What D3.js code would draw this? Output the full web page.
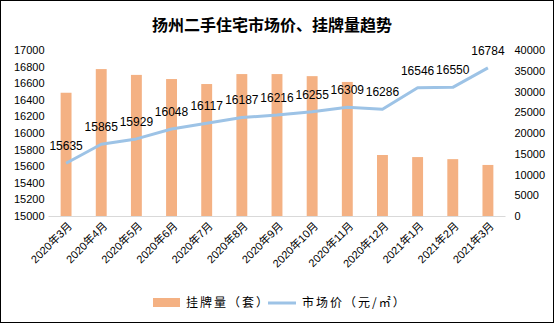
<!DOCTYPE html>
<html><head><meta charset="utf-8">
<script src="https://cdn.jsdelivr.net/npm/d3@7/dist/d3.min.js"></script>
<style>body{margin:0;background:#fff}svg{display:block}</style>
</head><body>
<script>
const categories = ["2020年3月","2020年4月","2020年5月","2020年6月","2020年7月","2020年8月","2020年9月","2020年10月","2020年11月","2020年12月","2021年1月","2021年2月","2021年3月"];
const listings = [29700,35400,34000,33000,31800,34200,34200,33700,32300,14700,14200,13700,12300];
const prices = [15635,15865,15929,16048,16117,16187,16216,16255,16309,16286,16546,16550,16784];
const leftTicks = [15000,15200,15400,15600,15800,16000,16200,16400,16600,16800,17000];
const rightTicks = [0,5000,10000,15000,20000,25000,30000,35000,40000];
const title = "扬州二手住宅市场价、挂牌量趋势";
const legendBar = "挂牌量（套）";
const legendLine = "市场价（元/㎡）";

const W=555,H=324;
const svg=d3.select("body").append("svg").attr("width",W).attr("height",H);
svg.append("rect").attr("x",0.5).attr("y",0.5).attr("width",W-2).attr("height",H-2).attr("fill","#fff").attr("stroke","#000").attr("stroke-width",1);

const L=48.5,R=505.5,T=50,B=216;
const x=d3.scaleBand().domain(categories).range([L,R]).paddingInner(0.69).paddingOuter(0.345);
const yL=d3.scaleLinear().domain([15000,17000]).range([B,T]);
const yR=d3.scaleLinear().domain([0,40000]).range([B,T]);

svg.append("text").attr("x",272).attr("y",31).attr("text-anchor","middle")
  .attr("font-family","'Noto Sans CJK SC'").attr("font-weight","bold").attr("font-size",16).attr("fill","#000").text(title);

// bars
svg.append("g").selectAll("rect").data(categories).join("rect")
  .attr("x",d=>x(d)).attr("width",x.bandwidth())
  .attr("y",(d,i)=>yR(listings[i])).attr("height",(d,i)=>B-yR(listings[i]))
  .attr("fill","#F4B183");

// baseline
svg.append("line").attr("x1",L).attr("x2",R).attr("y1",B+0.5).attr("y2",B+0.5).attr("stroke","#d9d9d9").attr("stroke-width",1);

// left axis
const axL=svg.append("g").attr("transform",`translate(${L-4},0)`).call(d3.axisLeft(yL).tickValues(leftTicks).tickSize(0).tickPadding(0).tickFormat(d3.format("d")));
axL.select(".domain").remove();
axL.selectAll("text").attr("font-family","'Liberation Sans',Arial").attr("font-size",11).attr("fill","#000");

// right axis
const axR=svg.append("g").attr("transform",`translate(${R+9},0)`).call(d3.axisRight(yR).tickValues(rightTicks).tickSize(0).tickPadding(0).tickFormat(d3.format("d")));
axR.select(".domain").remove();
axR.selectAll("text").attr("font-family","'Liberation Sans',Arial").attr("font-size",11).attr("fill","#000");

// line
const cx=d=>x(d)+x.bandwidth()/2;
svg.append("path").datum(categories).attr("fill","none").attr("stroke","#9DC3E6").attr("stroke-width",3).attr("stroke-linejoin","round")
  .attr("d",d3.line().x(d=>cx(d)).y((d,i)=>yL(prices[i])));

// labels
svg.append("g").selectAll("text").data(categories).join("text")
  .attr("x",d=>cx(d)).attr("y",(d,i)=>yL(prices[i])-13)
  .attr("text-anchor","middle").attr("font-family","'Liberation Sans',Arial").attr("font-size",12).attr("fill","#000")
  .text((d,i)=>prices[i]);

// x labels
svg.append("g").selectAll("text").data(categories).join("text")
  .attr("transform",d=>`translate(${cx(d)+4},${B+8}) rotate(-45)`)
  .attr("text-anchor","end").attr("dy","0.35em")
  .attr("font-family","'Liberation Sans','Noto Sans CJK SC',Arial").attr("font-size",11).attr("fill","#000").text(d=>d);

// legend
svg.append("rect").attr("x",153).attr("y",298).attr("width",27).attr("height",9).attr("fill","#F4B183");
svg.append("text").attr("x",186).attr("y",307).attr("font-family","'Noto Sans CJK SC'").attr("font-size",12).attr("letter-spacing",2).attr("fill","#000").text(legendBar);
svg.append("line").attr("x1",268).attr("x2",296).attr("y1",303).attr("y2",303).attr("stroke","#9DC3E6").attr("stroke-width",3);
svg.append("text").attr("x",302).attr("y",307).attr("font-family","'Noto Sans CJK SC'").attr("font-size",12).attr("letter-spacing",2).attr("fill","#000").text(legendLine);
</script>
</body></html>
